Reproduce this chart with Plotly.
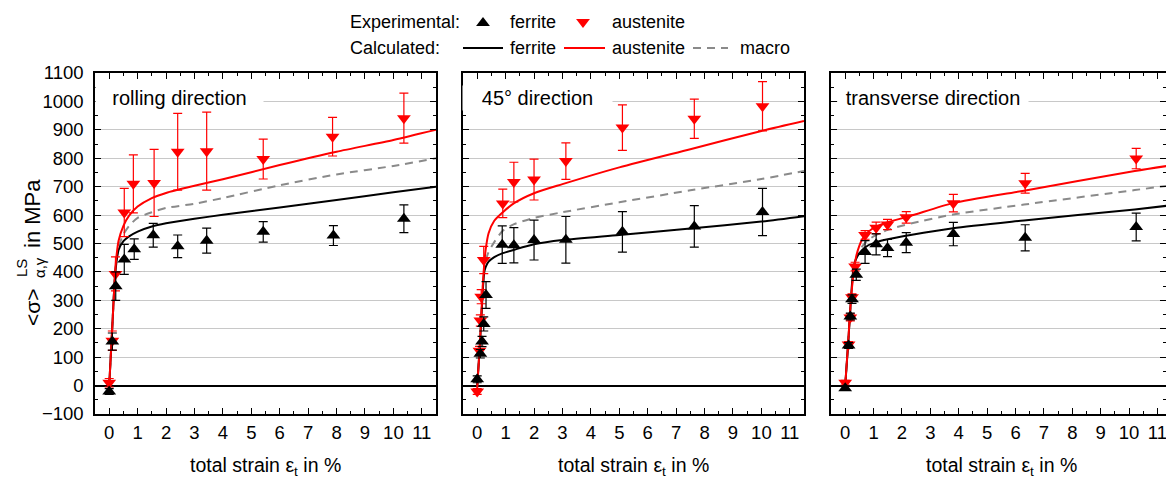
import plotly.graph_objects as go

W, H = 1166, 480
FONT = "Liberation Sans, Arial, sans-serif"
RED = "#ff0000"
GRAY = "#8a8a8a"
GRID = "#c8c8c8"

panel_titles = ["rolling direction", "45° direction", "transverse direction"]
x_title = "total strain ε<sub>t</sub> in %"

# ---------------- rolling direction ----------------
rd_fer_x = [0.0, 0.11, 0.23, 0.53, 0.88, 1.55, 2.41, 3.43, 5.42, 7.89, 10.37]
rd_fer_y = [-21, 155, 350, 444, 480, 529, 490, 510, 541, 528, 587]
rd_fer_e = [10, 30, 50, 53, 36, 42, 40, 44, 36, 35, 49]
rd_aus_x = [0.0, 0.11, 0.22, 0.53, 0.85, 1.58, 2.41, 3.43, 5.42, 7.86, 10.37]
rd_aus_y = [10, 158, 393, 609, 710, 713, 823, 825, 797, 876, 941]
rd_aus_e = [15, 34, 60, 85, 102, 118, 135, 137, 70, 68, 88]
rd_calc_x = [0, 0.1, 0.2, 0.25, 0.33, 0.5, 0.7, 1.0, 1.5, 2.0, 3.0, 4.0, 6.0, 8.0, 10.0, 11.5]
rd_calc_fer = [0, 190, 380, 430, 477, 508, 525, 542, 560, 571, 587, 601, 627, 653, 680, 700]
rd_calc_aus = [0, 190, 385, 450, 510, 562, 598, 630, 660, 678, 703, 726, 776, 823, 864, 900]
rd_calc_mac = [0, 190, 383, 440, 488, 532, 562, 590, 610, 625, 640, 660, 705, 743, 773, 800]

# ---------------- 45 degree direction ----------------
d45_fer_x = [0.0, 0.11, 0.17, 0.23, 0.31, 0.88, 1.29, 2.0, 3.12, 5.11, 7.64, 10.04]
d45_fer_y = [22, 112, 155, 217, 319, 496, 494, 512, 513, 541, 560, 611]
d45_fer_e = [12, 15, 18, 25, 47, 66, 62, 70, 82, 71, 73, 83]
d45_aus_x = [0.0, 0.08, 0.11, 0.14, 0.23, 0.9, 1.29, 2.0, 3.12, 5.11, 7.64, 10.04]
d45_aus_y = [-21, 123, 229, 313, 442, 641, 716, 725, 790, 908, 939, 983]
d45_aus_e = [10, 15, 20, 25, 48, 50, 70, 72, 64, 80, 69, 87]
d45_calc_x = [0, 0.1, 0.2, 0.25, 0.3, 0.4, 0.6, 0.9, 1.3, 2.0, 3.0, 5.0, 7.5, 10.0, 11.5]
d45_calc_fer = [0, 150, 340, 400, 418, 436, 452, 466, 478, 497, 512, 530, 553, 577, 596]
d45_calc_aus = [-10, 160, 360, 430, 480, 536, 580, 610, 642, 677, 709, 768, 832, 896, 931]
d45_calc_mac = [0, 155, 350, 410, 440, 470, 505, 545, 568, 590, 610, 645, 687, 727, 755]

# ---------------- transverse direction ----------------
td_fer_x = [0.0, 0.12, 0.18, 0.24, 0.39, 0.70, 1.09, 1.49, 2.15, 3.81, 6.34, 10.25]
td_fer_y = [-9, 141, 243, 304, 390, 470, 497, 484, 503, 533, 520, 558]
td_fer_e = [8, 10, 12, 15, 20, 40, 37, 30, 35, 41, 46, 49]
td_aus_x = [0.0, 0.12, 0.18, 0.24, 0.35, 0.70, 1.09, 1.49, 2.15, 3.81, 6.34, 10.25]
td_aus_y = [10, 145, 240, 311, 419, 530, 555, 567, 592, 642, 712, 799]
td_aus_e = [8, 10, 12, 12, 15, 15, 20, 18, 20, 31, 35, 36]
td_calc_x = [0, 0.1, 0.2, 0.3, 0.4, 0.6, 0.8, 1.1, 1.5, 2.3, 3.8, 6.3, 10.2, 11.35]
td_calc_fer = [0, 140, 300, 420, 450, 477, 493, 505, 515, 530, 554, 581, 620, 633]
td_calc_aus = [0, 145, 300, 400, 460, 515, 540, 560, 575, 597, 642, 686, 755, 773]
td_calc_mac = [0, 142, 300, 410, 450, 490, 512, 530, 548, 570, 602, 637, 688, 703]

panels = [
    (rd_fer_x, rd_fer_y, rd_fer_e, rd_aus_x, rd_aus_y, rd_aus_e,
     rd_calc_x, rd_calc_fer, rd_calc_aus, rd_calc_mac),
    (d45_fer_x, d45_fer_y, d45_fer_e, d45_aus_x, d45_aus_y, d45_aus_e,
     d45_calc_x, d45_calc_fer, d45_calc_aus, d45_calc_mac),
    (td_fer_x, td_fer_y, td_fer_e, td_aus_x, td_aus_y, td_aus_e,
     td_calc_x, td_calc_fer, td_calc_aus, td_calc_mac),
]

# layout geometry (pixels)
px_dom = [(95, 436), (463, 804), (831, 1166)]
x_ranges = [[-0.5, 11.5], [-0.5, 11.5], [-0.5, 11.30]]
y_dom = [(480 - 414) / H, (480 - 73) / H]

fig = go.Figure()

for i, p in enumerate(panels):
    fx, fy, fe, ax, ay, ae, cx, cf, ca, cm = p
    xa = "x" if i == 0 else f"x{i+1}"
    ya = "y" if i == 0 else f"y{i+1}"
    fig.add_trace(go.Scatter(x=cx, y=cm, mode="lines", xaxis=xa, yaxis=ya, showlegend=False,
                             line=dict(color=GRAY, width=2, dash="8px,6px", shape="spline", smoothing=0.7)))
    fig.add_trace(go.Scatter(x=cx, y=cf, mode="lines", xaxis=xa, yaxis=ya, showlegend=False,
                             line=dict(color="black", width=2, shape="spline", smoothing=0.7)))
    fig.add_trace(go.Scatter(x=cx, y=ca, mode="lines", xaxis=xa, yaxis=ya, showlegend=False,
                             line=dict(color=RED, width=2, shape="spline", smoothing=0.7)))
    fig.add_trace(go.Scatter(x=ax, y=ay, mode="markers", xaxis=xa, yaxis=ya, showlegend=False,
                             marker=dict(symbol="triangle-down", size=12, color=RED),
                             error_y=dict(type="data", array=ae, color=RED, thickness=1.2, width=4.5)))
    fig.add_trace(go.Scatter(x=fx, y=fy, mode="markers", xaxis=xa, yaxis=ya, showlegend=False,
                             marker=dict(symbol="triangle-up", size=12, color="black"),
                             error_y=dict(type="data", array=fe, color="black", thickness=1.2, width=4.5)))

    xd = [px_dom[i][0] / W, px_dom[i][1] / W]
    xkey = "xaxis" if i == 0 else f"xaxis{i+1}"
    ykey = "yaxis" if i == 0 else f"yaxis{i+1}"
    fig.update_layout(**{
        xkey: dict(domain=xd, range=x_ranges[i], anchor=ya, automargin=False,
                   tickmode="linear", tick0=0, dtick=1,
                   ticks="inside", ticklen=6, tickwidth=1.3, tickcolor="black",
                   minor=dict(ticks="inside", ticklen=3.5, dtick=0.5, tickcolor="black", tickwidth=1.2),
                   showline=True, linecolor="black", linewidth=1.5, mirror="allticks",
                   showgrid=False, zeroline=False, ticklabeloverflow="allow",
                   tickfont=dict(family=FONT, size=18.5, color="black"), ticklabelstandoff=1),
        ykey: dict(domain=y_dom, range=[-100, 1100], anchor=xa, automargin=False,
                   tickmode="linear", tick0=0, dtick=100,
                   ticks="inside", ticklen=6, tickwidth=1.3, tickcolor="black",
                   minor=dict(ticks="inside", ticklen=3.5, dtick=50, tickcolor="black", tickwidth=1.2),
                   showline=True, linecolor="black", linewidth=1.5, mirror="allticks",
                   showgrid=True, gridcolor=GRID, gridwidth=1,
                   zeroline=True, zerolinecolor="black", zerolinewidth=2,
                   showticklabels=(i == 0),
                   tickfont=dict(family=FONT, size=18.5, color="black"), ticklabelstandoff=6),
    })

# legend overlay axis (pixel coordinates), transparent background
fig.update_layout(
    xaxis4=dict(domain=[0, 1], range=[0, W], visible=False, anchor="y4", automargin=False),
    yaxis4=dict(domain=[0, 1], range=[H, 0], visible=False, anchor="x4", automargin=False),
)
leg_row1, leg_row2 = 22, 48
fig.add_trace(go.Scatter(x=[483], y=[leg_row1 + 1], mode="markers", xaxis="x4", yaxis="y4", showlegend=False,
                         marker=dict(symbol="triangle-up", size=12, color="black"), hoverinfo="skip"))
fig.add_trace(go.Scatter(x=[583], y=[leg_row1], mode="markers", xaxis="x4", yaxis="y4", showlegend=False,
                         marker=dict(symbol="triangle-down", size=12, color=RED), hoverinfo="skip"))
fig.add_trace(go.Scatter(x=[463, 503], y=[leg_row2, leg_row2], mode="lines", xaxis="x4", yaxis="y4",
                         showlegend=False, line=dict(color="black", width=2), hoverinfo="skip"))
fig.add_trace(go.Scatter(x=[564, 605], y=[leg_row2, leg_row2], mode="lines", xaxis="x4", yaxis="y4",
                         showlegend=False, line=dict(color=RED, width=2), hoverinfo="skip"))
fig.add_trace(go.Scatter(x=[693, 728], y=[leg_row2, leg_row2], mode="lines", xaxis="x4", yaxis="y4",
                         showlegend=False, line=dict(color=GRAY, width=2, dash="8px,6px"), hoverinfo="skip"))

ann = []
def txt(x, y, s, size=18, xanchor="left", angle=0, **kw):
    ann.append(dict(x=x / W, y=1 - y / H, xref="paper", yref="paper", text=s, showarrow=False,
                    xanchor=xanchor, yanchor="middle", textangle=angle,
                    font=dict(family=FONT, size=size, color="black"), **kw))

txt(348, leg_row1, "Experimental:")
txt(508, leg_row1, "ferrite")
txt(610, leg_row1, "austenite")
txt(348, leg_row2, "Calculated:")
txt(508, leg_row2, "ferrite")
txt(610, leg_row2, "austenite")
txt(738, leg_row2, "macro")

# x-axis titles
for i in range(3):
    c = px_dom[i][0] + 341 / 2
    txt(c, 466, x_title, size=19.5, xanchor="center")

# y-axis title pieces (rotated)
txt(32, 307, "&lt;σ&gt;", size=21, xanchor="center", angle=-90)
txt(21, 268, "LS", size=15, xanchor="center", angle=-90)
txt(39, 268, "α,γ", size=15, xanchor="center", angle=-90)
txt(32, 214, "in MPa", size=22, xanchor="center", angle=-90)

# panel labels with white background
box = [(96, 263), (463, 612), (838, 1028)]
for i, t in enumerate(panel_titles):
    c = (box[i][0] + box[i][1]) / 2
    ann.append(dict(x=c / W, y=1 - 98 / H, xref="paper", yref="paper", text=t, showarrow=False,
                    xanchor="center", yanchor="middle", width=box[i][1] - box[i][0], height=24,
                    bgcolor="white", borderpad=0, align="center",
                    font=dict(family=FONT, size=20, color="black")))

fig.update_layout(
    template="none",
    width=W, height=H,
    margin=dict(l=0, r=0, t=0, b=0, pad=0, autoexpand=False),
    paper_bgcolor="white", plot_bgcolor="rgba(0,0,0,0)",
    font=dict(family=FONT, color="black"),
    annotations=ann,
    showlegend=False,
)

fig.write_html("out.html")
